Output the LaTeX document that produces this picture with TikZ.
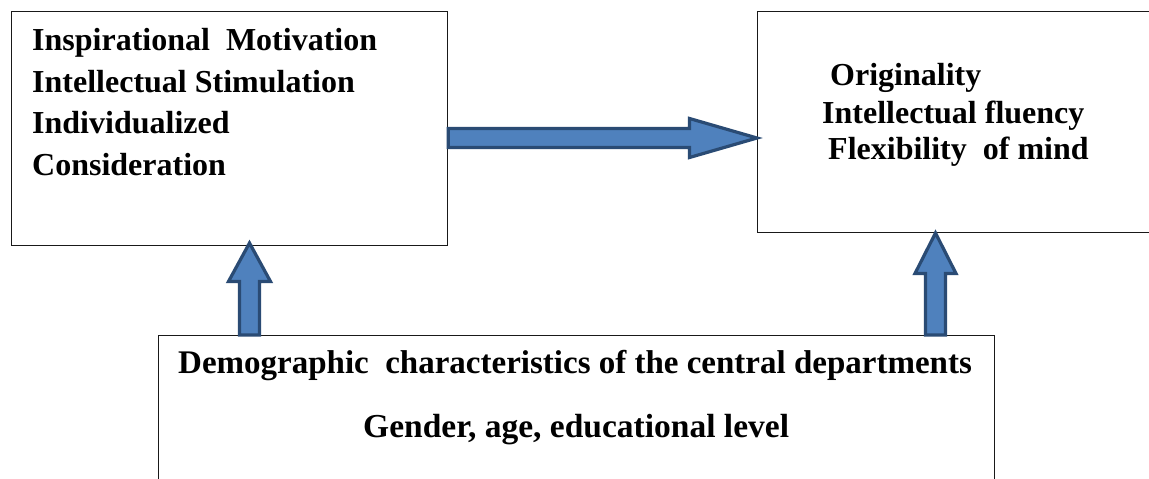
\documentclass[tikz,border=0pt]{standalone}
\usepackage{fontspec}
\setmainfont{Liberation Serif}
\usetikzlibrary{calc}
\definecolor{arrfill}{HTML}{4F81BD}
\definecolor{arrline}{HTML}{2A4B74}
% #1 start coordinate, #2 tip coordinate, #3 shaft half width, #4 head half width, #5 head length
\newcommand\blockarr[5]{%
  \coordinate (#1-h) at ($(#2)!#5!(#1)$);
  \draw[barrow] ($(#1)!#3!90:(#2)$) -- ($(#1-h)!#3!90:(#2)$) -- ($(#1-h)!#4!90:(#2)$) -- (#2)
    -- ($(#1-h)!#4!-90:(#2)$) -- ($(#1-h)!#3!-90:(#2)$) -- ($(#1)!#3!-90:(#2)$) -- cycle;
}
\begin{document}
\begin{tikzpicture}[x=1pt,y=-1pt,
  box/.style={draw=black!90, line width=1.2pt, inner sep=0pt, anchor=north west},
  txt/.style={font=\bfseries\fontsize{32}{32}\selectfont, anchor=base west, inner sep=0pt},
  txtb/.style={font=\bfseries\fontsize{33}{33}\selectfont, anchor=base west, inner sep=0pt},
  barrow/.style={fill=arrfill, draw=arrline, line width=3.2pt, line join=miter}]
\useasboundingbox (0,0) rectangle (1149,479);
\clip (0,0) rectangle (1149,479);
\fill[white] (0,0) rectangle (1149,479);
% boxes
\node[box, minimum width=436pt, minimum height=234pt] (L) at (11,11) {};
\node[box, minimum width=430pt, minimum height=221pt] (R) at (757,11) {};
\node[box, minimum width=836pt, minimum height=200pt] (B) at (158,335) {};
% texts
\node[txt] (t1) at (32,50) {Inspirational\ \ Motivation};
\node[txt] (t2) at (32,92) {Intellectual Stimulation};
\node[txt] (t3) at (32,133) {Individualized};
\node[txt] (t4) at (32,175) {Consideration};
\node[txt] (r1) at (830,85) {Originality};
\node[txt] (r2) at (822,123) {Intellectual fluency};
\node[txt] (r3) at (828,159) {Flexibility\ \ of mind};
\node[txtb] (b1) at (178,373) {Demographic\ \ characteristics of the central departments};
\node[txtb, font=\bfseries\fontsize{33.5}{33.5}\selectfont] (b2) at (363,437) {Gender, age, educational level};
% arrow anchors
\coordinate (hs) at (L.east |- 0,138);
\coordinate (ht) at (757,138);
\coordinate (ls) at (249.5,0 |- B.north);
\coordinate (lt) at (249.5,243);
\coordinate (rs) at (935.5,0 |- B.north);
\coordinate (rt) at (935.5,233);
\blockarr{hs}{ht}{9.5pt}{19.5pt}{67.5pt}
\blockarr{ls}{lt}{10pt}{21pt}{38.5pt}
\blockarr{rs}{rt}{10pt}{20.5pt}{40.5pt}
\end{tikzpicture}
\end{document}
